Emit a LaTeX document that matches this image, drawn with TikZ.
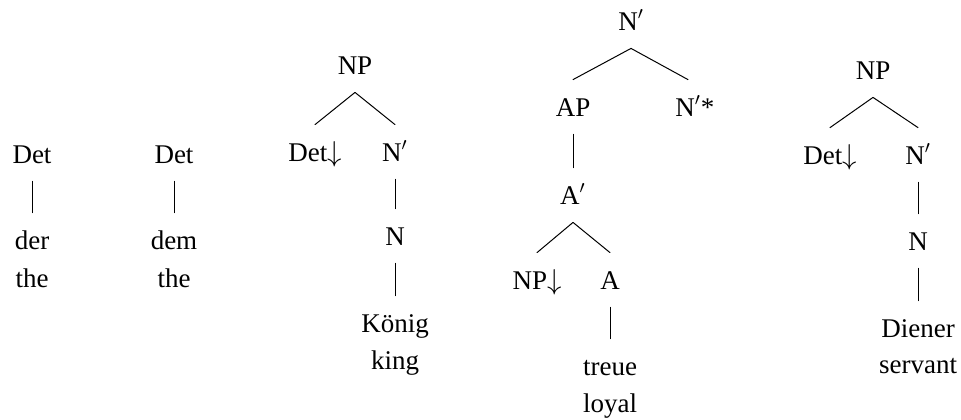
\documentclass[tikz,border=0pt]{standalone}
\usepackage{fontspec}
\setmainfont{Liberation Serif}
\usetikzlibrary{positioning}
\tikzset{
  figbase/.style={
    x=0.5pt, y=-0.5pt,
    font=\fontsize{13.5}{16}\selectfont,
    line cap=round,
  },
  cat/.style={inner sep=0pt, text height=9pt, text depth=0pt, minimum height=27pt},
  gloss/.style={inner sep=0pt, text height=9pt, text depth=0pt},
  branch/.style={draw=black, line width=0.5pt},
}

\begin{document}
\begin{tikzpicture}[figbase]
  \useasboundingbox (0,0) rectangle (961,419);

  \node[cat] (d1) at (32,154) {Det};
  \node[cat] (w1) at (32,240) {der};
  \node[gloss] (g1) at (32,278) {the};
  \draw[branch] (d1) -- (w1);

  \node[cat] (d2) at (174,154) {Det};
  \node[cat] (w2) at (174,240) {dem};
  \node[gloss] (g2) at (174,278) {the};
  \draw[branch] (d2) -- (w2);

  \node[cat] (np3) at (355,65) {NP};
  \node[cat] (det3) at (315,152) {Det$\downarrow$};
  \node[cat] (nb3) at (395,152) {N$'$};
  \node[cat] (n3) at (395,236) {N};
  \node[cat] (w3) at (395,323) {König};
  \node[gloss] (g3) at (395,360) {king};
  \draw[branch] (np3.south) -- (det3.north);
  \draw[branch] (np3.south) -- (nb3.north);
  \draw[branch] (nb3) -- (n3);
  \draw[branch] (n3) -- (w3);

  \node[cat] (nb4) at (631,21) {N$'$};
  \node[cat] (ap4) at (573,107) {AP};
  \node[cat] (foot4) at (688,107) {N$'$\rlap{*}};
  \node[cat] (ab4) at (573,195) {A$'$};
  \node[cat] (np4) at (537,280) {NP$\downarrow$};
  \node[cat] (a4) at (610,280) {A};
  \node[cat] (w4) at (610,366) {treue};
  \node[gloss] (g4) at (610,403) {loyal};
  \draw[branch] (nb4.south) -- (ap4.north);
  \draw[branch] (nb4.south) -- (foot4.north);
  \draw[branch] (ap4) -- (ab4);
  \draw[branch] (ab4.south) -- (np4.north);
  \draw[branch] (ab4.south) -- (a4.north);
  \draw[branch] (a4) -- (w4);

  \node[cat] (np5) at (873,70) {NP};
  \node[cat] (det5) at (830,155) {Det$\downarrow$};
  \node[cat] (nb5) at (918,155) {N$'$};
  \node[cat] (n5) at (918,241) {N};
  \node[cat] (w5) at (918,328) {Diener};
  \node[gloss] (g5) at (918,364) {servant};
  \draw[branch] (np5.south) -- (det5.north);
  \draw[branch] (np5.south) -- (nb5.north);
  \draw[branch] (nb5) -- (n5);
  \draw[branch] (n5) -- (w5);
\end{tikzpicture}
\end{document}
